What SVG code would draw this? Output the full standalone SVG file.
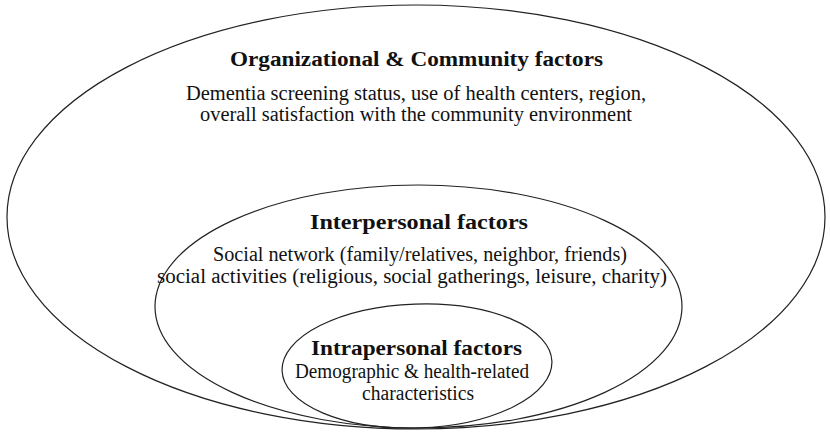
<svg xmlns="http://www.w3.org/2000/svg" width="830" height="435" viewBox="0 0 830 435">
<style>
.ring{fill:none;stroke:#222;stroke-width:1.2}
.h{font-family:"Liberation Serif","Times New Roman",serif;font-weight:bold;font-size:20.5px;fill:#111;text-anchor:middle}
.t{font-family:"Liberation Serif","Times New Roman",serif;font-size:20.5px;fill:#111;text-anchor:middle}
</style>
<rect width="830" height="435" fill="#fff"/>
<g id="organizational">
<ellipse class="ring" cx="416" cy="217" rx="409" ry="212"/>
<text class="h" x="416.5" y="66" textLength="373" lengthAdjust="spacingAndGlyphs">Organizational &amp; Community factors</text>
<text class="t" x="416" y="100" textLength="460" lengthAdjust="spacingAndGlyphs">Dementia screening status, use of health centers, region,</text>
<text class="t" x="416" y="121" textLength="432" lengthAdjust="spacingAndGlyphs">overall satisfaction with the community environment</text>
</g>
<g id="interpersonal">
<ellipse class="ring" cx="418.5" cy="306.5" rx="263.5" ry="121.5"/>
<text class="h" x="419" y="229" textLength="218" lengthAdjust="spacingAndGlyphs">Interpersonal factors</text>
<text class="t" x="420" y="261" textLength="414" lengthAdjust="spacingAndGlyphs">Social network (family/relatives, neighbor, friends)</text>
<text class="t" x="412" y="283" textLength="510" lengthAdjust="spacingAndGlyphs">social activities (religious, social gatherings, leisure, charity)</text>
</g>
<g id="intrapersonal">
<ellipse class="ring" cx="417" cy="366" rx="135" ry="62" transform="rotate(-2 417 366)"/>
<text class="h" x="416.5" y="355" textLength="211" lengthAdjust="spacingAndGlyphs">Intrapersonal factors</text>
<text class="t" x="412" y="378" textLength="234" lengthAdjust="spacingAndGlyphs">Demographic &amp; health-related</text>
<text class="t" x="418" y="400" textLength="112" lengthAdjust="spacingAndGlyphs">characteristics</text>
</g>
<g id="connectors"/>
</svg>
